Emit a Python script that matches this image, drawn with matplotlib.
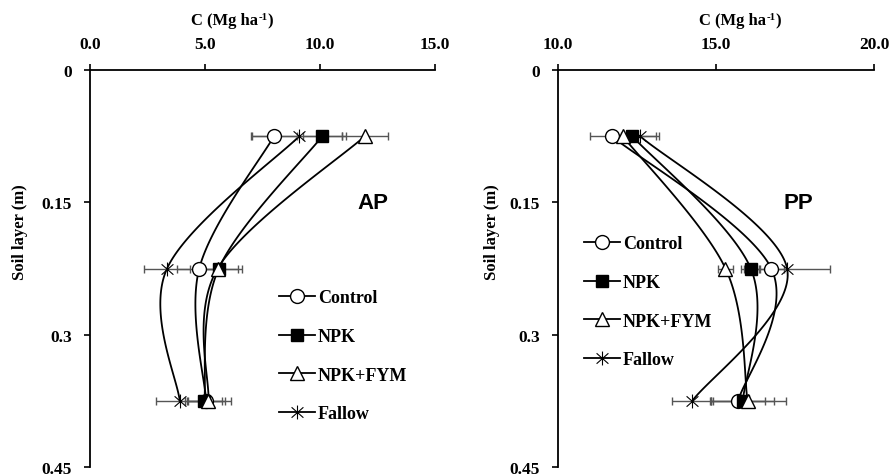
import numpy as np
import matplotlib
matplotlib.use("Agg")
import matplotlib.pyplot as plt
from matplotlib.path import Path

plt.rcParams["font.family"] = ["Liberation Serif", "DejaVu Serif"]

# Soil layer mid-depths (m)
depth = [0.075, 0.225, 0.375]
treatments = ["Control", "NPK", "NPK+FYM", "Fallow"]

# AP: carbon stock (Mg ha-1) and error
ap_control = [8.0, 4.75, 5.05]
ap_npk = [10.1, 5.6, 4.97]
ap_npk_fym = [11.95, 5.55, 5.15]
ap_fallow = [9.1, 3.35, 3.9]
ap_control_err = [1.0, 0.95, 0.8]
ap_npk_err = [0.85, 1.0, 0.75]
ap_npk_fym_err = [1.0, 0.9, 1.0]
ap_fallow_err = [2.05, 1.0, 1.05]

# PP: carbon stock (Mg ha-1) and error
pp_control = [11.7, 16.75, 15.7]
pp_npk = [12.35, 16.1, 15.85]
pp_npk_fym = [12.05, 15.3, 16.0]
pp_fallow = [12.6, 17.25, 14.25]
pp_control_err = [0.7, 0.4, 0.85]
pp_npk_err = [0.75, 0.3, 1.0]
pp_npk_fym_err = [0.3, 0.25, 1.2]
pp_fallow_err = [0.6, 1.35, 0.65]

ap_xticks = [0.0, 5.0, 10.0, 15.0]
pp_xticks = [10.0, 15.0, 20.0]
yticks = [0, 0.15, 0.3, 0.45]
ytick_labels = ["0", "0.15", "0.3", "0.45"]

# Star marker: vertical stroke plus an X
star = Path([(0, -1), (0, 1), (-0.85, -0.75), (0.85, 0.75), (-0.85, 0.75), (0.85, -0.75)],
            [Path.MOVETO, Path.LINETO, Path.MOVETO, Path.LINETO, Path.MOVETO, Path.LINETO])

styles = {
    "Control": dict(marker="o", markerfacecolor="white", markersize=10),
    "NPK": dict(marker="s", markerfacecolor="black", markersize=9),
    "NPK+FYM": dict(marker="^", markerfacecolor="white", markersize=10),
    "Fallow": dict(marker=star, markerfacecolor="none", markersize=10, markeredgewidth=0.8),
}


def smooth_curve(ax, xs, ys, n=60):
    """Bezier-smoothed line through points, computed in display space."""
    pts = ax.transData.transform(np.column_stack([xs, ys]))
    m = len(pts)
    out = []
    for i in range(m - 1):
        p0 = pts[i - 1] if i > 0 else pts[i]
        p1 = pts[i]
        p2 = pts[i + 1]
        p3 = pts[i + 2] if i + 2 < m else pts[i + 1]
        c1 = p1 + (p2 - p0) / 6.0
        c2 = p2 - (p3 - p1) / 6.0
        t = np.linspace(0, 1, n)[:, None]
        seg = ((1 - t) ** 3) * p1 + 3 * ((1 - t) ** 2) * t * c1 + 3 * (1 - t) * t ** 2 * c2 + t ** 3 * p2
        out.append(seg if i == 0 else seg[1:])
    out = np.vstack(out)
    return ax.transData.inverted().transform(out)


fig = plt.figure(figsize=(8.93, 4.77), dpi=100)
W, H = 893, 477


def make_axes(left, right, top, bottom, xlim, xticks):
    ax = fig.add_axes([left / W, 1 - bottom / H, (right - left) / W, (bottom - top) / H])
    ax.set_xlim(*xlim)
    ax.set_ylim(0.45, 0)
    ax.xaxis.tick_top()
    ax.set_xticks(xticks)
    ax.set_xticklabels([f"{v:.1f}" for v in xticks])
    ax.set_yticks(yticks)
    ax.set_yticklabels(ytick_labels)
    for s in ["right", "bottom"]:
        ax.spines[s].set_visible(False)
    for s in ["left", "top"]:
        ax.spines[s].set_linewidth(1.3)
    ax.tick_params(axis="both", direction="out", length=4, width=1.2, labelsize=12.5, pad=9)
    for lab in ax.get_xticklabels() + ax.get_yticklabels():
        lab.set_fontweight("bold")
    ax.patch.set_alpha(0)
    return ax


def draw_panel(ax, series, errors, tag, tag_xy, legend_anchor):
    handles = []
    for name in treatments:
        xs = series[name]
        curve = smooth_curve(ax, xs, depth)
        ax.plot(curve[:, 0], curve[:, 1], color="black", lw=1.3, zorder=2)
        ax.errorbar(xs, depth, xerr=errors[name], fmt="none", ecolor="#555555",
                    elinewidth=1.0, capsize=3, capthick=1.0, zorder=3)
    for name in treatments:
        st = styles[name]
        ax.plot(series[name], depth, linestyle="none", color="black",
                markeredgecolor="black", zorder=4, **st)
        h, = ax.plot([], [], color="black", lw=1.3, markeredgecolor="black", **st)
        handles.append(h)
    ax.legend(handles, treatments, loc="upper left", bbox_to_anchor=legend_anchor,
              frameon=False, handlelength=2.0, handletextpad=0.15,
              labelspacing=1.2, borderaxespad=0,
              prop={"family": "Liberation Serif", "weight": "bold", "size": 13})
    ax.text(tag_xy[0], tag_xy[1], tag, transform=ax.transData, ha="center", va="center",
            fontsize=16, fontweight="bold", family=["Liberation Sans", "DejaVu Sans"])


def unit_title(x_px, y_px, size=12):
    """Axis title 'C (Mg ha-1)' with a raised '-1'."""
    renderer = fig.canvas.get_renderer()
    parts = [("C (Mg ha", size, 0), ("-1", size * 0.65, 5), (")", size, 0)]
    texts = []
    widths = []
    for s, fs, dy in parts:
        t = fig.text(0, 0, s, fontsize=fs, fontweight="bold", ha="left", va="baseline")
        texts.append((t, dy))
        widths.append(t.get_window_extent(renderer).width)
    x = x_px - sum(widths) / 2
    for (t, dy), w in zip(texts, widths):
        t.set_position((x / W, 1 - (y_px - dy) / H))
        x += w


ax1 = make_axes(90, 435, 71, 468, (0, 15), ap_xticks)
ax2 = make_axes(558, 874, 71, 468, (10, 20), pp_xticks)

draw_panel(ax1,
           {"Control": ap_control, "NPK": ap_npk, "NPK+FYM": ap_npk_fym, "Fallow": ap_fallow},
           {"Control": ap_control_err, "NPK": ap_npk_err, "NPK+FYM": ap_npk_fym_err, "Fallow": ap_fallow_err},
           "AP", (12.3, 0.15), ((272 - 90) / 345, 1 - (283 - 71) / 397))
draw_panel(ax2,
           {"Control": pp_control, "NPK": pp_npk, "NPK+FYM": pp_npk_fym, "Fallow": pp_fallow},
           {"Control": pp_control_err, "NPK": pp_npk_err, "NPK+FYM": pp_npk_fym_err, "Fallow": pp_fallow_err},
           "PP", (17.6, 0.15), ((577 - 558) / 316, 1 - (229 - 71) / 397))

for x_px in (232, 740):
    unit_title(x_px, 25)
for x_px in (20, 492):
    fig.text(x_px / W, 1 - 232 / H, "Soil layer (m)", ha="center", va="center",
             rotation=90, fontsize=12, fontweight="bold")

fig.savefig("out.png", dpi=100)
